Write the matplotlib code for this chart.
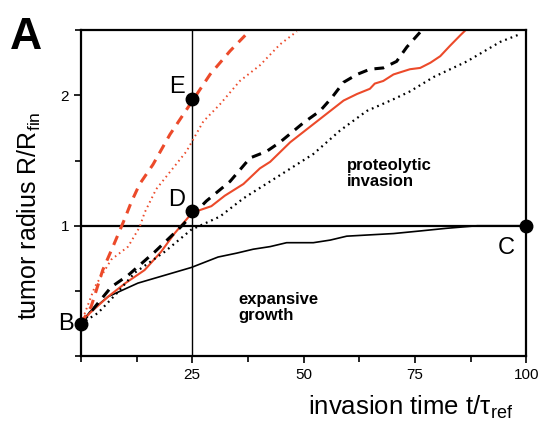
import matplotlib
matplotlib.use("Agg")
import matplotlib.pyplot as plt
from matplotlib.ticker import MultipleLocator

plt.rcParams['font.family'] = ['Liberation Sans', 'DejaVu Sans']
plt.rcParams['mathtext.fontset'] = 'custom'
plt.rcParams['mathtext.rm'] = 'Liberation Sans'
plt.rcParams['mathtext.it'] = 'Liberation Sans:italic'

RED = '#ec4a2a'

# expansive growth (black solid)
exp_t = [0, 0, 2, 6.1, 12.8, 18.8, 24.8, 30.8, 35, 38.7, 42.5, 46.2, 50, 52.2,
         56, 59.7, 64.9, 70.2, 76.2, 82, 89, 95, 100]
exp_r = [0, 0.25, 0.34, 0.456, 0.56, 0.62, 0.68, 0.76, 0.79, 0.82, 0.84, 0.87,
         0.87, 0.87, 0.89, 0.92, 0.93, 0.94, 0.96, 0.98, 1.0, 1.0, 1.0]

# proteolytic invasion, red solid
red_t = [0, 0, 2, 6.1, 10, 14.3, 18, 21, 25, 29.3, 32.3, 36.5, 40.2, 42.5, 47,
         53, 59, 62, 64.9, 66, 67.9, 70.2, 73.9, 76.2, 78.5, 80.7, 82.9, 85.2, 86.7]
red_r = [0, 0.25, 0.33, 0.456, 0.56, 0.66, 0.80, 0.94, 1.10, 1.15, 1.23, 1.32,
         1.44, 1.49, 1.64, 1.80, 1.96, 2.01, 2.05, 2.09, 2.11, 2.16, 2.20, 2.21,
         2.25, 2.30, 2.38, 2.46, 2.51]

# black dashed
bdash_t = [0, 2, 6.8, 10.6, 16.6, 21.8, 25, 28.2, 33.5, 38, 41.7, 44.7, 50,
           53.7, 56.3, 59, 62, 64.9, 67.9, 70.9, 73.2, 76.6]
bdash_r = [0.25, 0.33, 0.53, 0.62, 0.80, 0.97, 1.08, 1.19, 1.34, 1.52, 1.57,
           1.64, 1.79, 1.88, 1.98, 2.10, 2.16, 2.20, 2.21, 2.26, 2.37, 2.50]

# black dotted
bdot_t = [0, 3.8, 8, 12.1, 18.8, 24.8, 31.2, 36.5, 40.2, 46.2, 52.2, 58.2,
          64.2, 70.2, 73.9, 79.2, 86.7, 94.2, 98.7]
bdot_r = [0.25, 0.33, 0.48, 0.64, 0.80, 0.97, 1.07, 1.21, 1.29, 1.42, 1.55,
          1.73, 1.88, 1.97, 2.03, 2.14, 2.26, 2.41, 2.47]

# red dashed
rdash_t = [0, 2.3, 4.9, 7.2, 9.8, 11.3, 13.2, 16.2, 20, 24.5, 29, 33.5, 36.9]
rdash_r = [0.25, 0.38, 0.66, 0.84, 1.05, 1.18, 1.32, 1.47, 1.70, 1.93, 2.16,
           2.34, 2.46]

# red dotted
rdot_t = [0, 3.1, 6.8, 10.6, 13.2, 14.3, 16.9, 23.7, 27.5, 31.2, 35.7, 40.2,
          44.7, 48.5]
rdot_r = [0.25, 0.53, 0.74, 0.84, 0.99, 1.10, 1.28, 1.57, 1.80, 1.93, 2.11,
          2.23, 2.39, 2.49]

# labelled points
pt_names = ['B', 'D', 'E', 'C']
pt_t = [0, 25, 25, 100]
pt_r = [0.25, 1.11, 1.97, 1.0]

fig = plt.figure(figsize=(5.43, 4.24), dpi=100)
ax = fig.add_axes([0.149, 0.160, 0.820, 0.769])

ax.axhline(1.0, color='black', lw=1.6, zorder=1)
ax.axvline(25, color='black', lw=1.0, zorder=1)

ax.plot(exp_t, exp_r, color='black', lw=1.2)
ax.plot(red_t, red_r, color=RED, lw=1.5)
ax.plot(bdash_t, bdash_r, color='black', lw=2.2, dashes=(3.2, 2.4))
ax.plot(bdot_t, bdot_r, color='black', lw=1.6, dashes=(0.8, 1.8))
ax.plot(rdash_t, rdash_r, color=RED, lw=2.2, dashes=(3.2, 2.4))
ax.plot(rdot_t, rdot_r, color=RED, lw=1.4, dashes=(0.8, 1.8))

ax.plot(pt_t, pt_r, 'o', color='black', ms=9, clip_on=False, zorder=5)

offsets = {'B': (-5, 0, 'right', 'center'),
           'D': (-5, 0, 'right', 'bottom'),
           'E': (-5, 1, 'right', 'bottom'),
           'C': (-8, -8, 'right', 'top')}
for name, t, r in zip(pt_names, pt_t, pt_r):
    dx, dy, ha, va = offsets[name]
    ax.annotate(name, (t, r), xytext=(dx, dy), textcoords='offset points',
                ha=ha, va=va, fontsize=17)

ax.text(59.8, 1.52, 'proteolytic\ninvasion', fontsize=12, fontweight='bold',
        va='top', ha='left', linespacing=1.05)
ax.text(35.3, 0.49, 'expansive\ngrowth', fontsize=12, fontweight='bold',
        va='top', ha='left', linespacing=1.05)

ax.set_xlim(0, 100)
ax.set_ylim(0, 2.5)
ax.xaxis.set_major_locator(MultipleLocator(25))
ax.xaxis.set_minor_locator(MultipleLocator(12.5))
ax.yaxis.set_major_locator(MultipleLocator(1))
ax.yaxis.set_minor_locator(MultipleLocator(0.5))
ax.set_xticks([25, 50, 75, 100])
ax.set_yticks([1, 2])
ax.tick_params(which='both', direction='out', width=1.2, labelsize=11)
ax.tick_params(which='major', length=5)
ax.tick_params(which='minor', length=4)
for s in ax.spines.values():
    s.set_linewidth(1.6)

ax.set_xlabel('invasion time t/τ$_{\\mathregular{ref}}$', fontsize=18.5)
ax.xaxis.set_label_coords(0.74, -0.115)
ax.set_ylabel('tumor radius R/R$_{\\mathregular{fin}}$', fontsize=18)
ax.yaxis.set_label_coords(-0.085, 0.43)

fig.text(0.018, 0.96, 'A', fontsize=32, fontweight='bold', va='top', ha='left')

fig.savefig('out.png', dpi=100)
